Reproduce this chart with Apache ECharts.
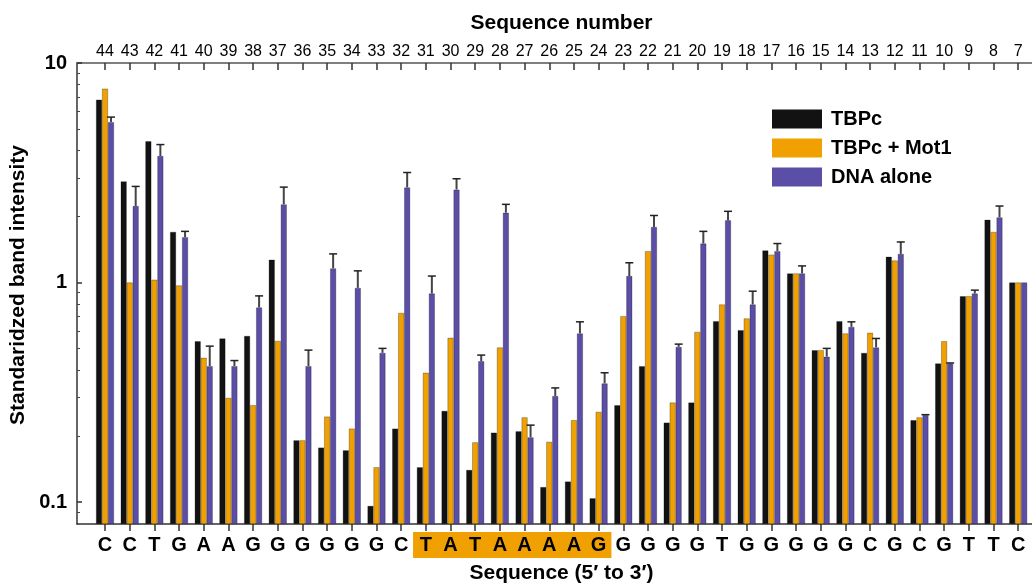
<!DOCTYPE html>
<html>
<head>
<meta charset="utf-8">
<script src="https://cdn.jsdelivr.net/npm/echarts@6/dist/echarts.min.js"></script>
<style>
  html, body { margin: 0; padding: 0; background: #fff; }
  #chart { width: 1032px; height: 585px; }
</style>
</head>
<body>
<div id="chart"></div>
<script>
// sequence positions, left to right
const seqNumbers = [44, 43, 42, 41, 40, 39, 38, 37, 36, 35, 34, 33, 32, 31, 30, 29, 28, 27, 26,
  25, 24, 23, 22, 21, 20, 19, 18, 17, 16, 15, 14, 13, 12, 11, 10, 9, 8, 7]
const bases = ['C', 'C', 'T', 'G', 'A', 'A', 'G', 'G', 'G', 'G', 'G', 'G', 'C', 'T', 'A', 'T', 'A', 'A', 'A',
  'A', 'G', 'G', 'G', 'G', 'G', 'T', 'G', 'G', 'G', 'G', 'G', 'C', 'G', 'C', 'G', 'T', 'T', 'C']
const tataBox = [31, 30, 29, 28, 27, 26, 25, 24]

const tbpc = [6.81, 2.89, 4.40, 1.70, 0.54, 0.556, 0.571, 1.27, 0.191, 0.177, 0.172, 0.096, 0.216,
  0.144, 0.26, 0.14, 0.207, 0.21, 0.117, 0.124, 0.104, 0.276, 0.416, 0.23, 0.284, 0.667, 0.607,
  1.40, 1.10, 0.492, 0.667, 0.478, 1.31, 0.236, 0.428, 0.866, 1.93, 1.0]
const tbpcMot1 = [7.64, 1.00, 1.03, 0.97, 0.454, 0.298, 0.276, 0.542, 0.191, 0.245, 0.216, 0.144, 0.727,
  0.388, 0.56, 0.187, 0.506, 0.243, 0.188, 0.236, 0.2575, 0.703, 1.39, 0.284, 0.596, 0.794, 0.686,
  1.34, 1.10, 0.492, 0.586, 0.590, 1.26, 0.243, 0.54, 0.866, 1.70, 1.0]
const dnaAlone = [5.38, 2.23, 3.77, 1.61, 0.416, 0.416, 0.769, 2.27, 0.416, 1.16, 0.945, 0.478, 2.71,
  0.891, 2.65, 0.438, 2.08, 0.197, 0.304, 0.586, 0.347, 1.07, 1.79, 0.509, 1.505, 1.92, 0.794,
  1.39, 1.10, 0.459, 0.628, 0.506, 1.35, 0.249, 0.428, 0.891, 1.98, 1.0]
// top of the error bar on DNA alone
const dnaAloneUpper = [5.67, 2.74, 4.25, 1.71, 0.513, 0.441, 0.869, 2.72, 0.492, 1.35, 1.13, 0.501, 3.17,
  1.07, 2.97, 0.467, 2.27, 0.224, 0.331, 0.662, 0.388, 1.23, 2.02, 0.524, 1.71, 2.11, 0.913,
  1.505, 1.19, 0.501, 0.662, 0.556, 1.53, 0.25, 0.43, 0.923, 2.23, null]

const yMajor = [0.1, 1, 10]
const yMinor = [0.09, 0.2, 0.3, 0.4, 0.5, 0.6, 0.7, 0.8, 0.9, 2, 3, 4, 5, 6, 7, 8, 9]

const idx = seqNumbers.map((d, i) => i)
const font = 'Liberation Sans, Arial, Helvetica, sans-serif'
const xMin = -1.135
const xMax = 37.56
const yMin = 0.0794
const yMax = 10

const chart = echarts.init(document.getElementById('chart'))

const barStyle = c => ({ color: c, borderColor: 'rgba(0,0,0,0.45)', borderWidth: 0.6 })

chart.setOption({
  animation: false,
  textStyle: { fontFamily: font },
  grid: { left: 77, right: 0, top: 63, bottom: 61, containLabel: false, outerBoundsMode: 'none' },
  legend: {
    data: ['TBPc', 'TBPc + Mot1', 'DNA alone'],
    orient: 'vertical',
    left: 767,
    top: 104,
    itemWidth: 50,
    itemHeight: 19,
    itemGap: 9,
    icon: 'rect',
    itemStyle: { borderWidth: 0 },
    textStyle: { fontSize: 20, fontWeight: 'bold', color: '#000', fontFamily: font, padding: [0, 0, 0, 4] }
  },
  xAxis: [
    {
      type: 'value',
      position: 'bottom',
      min: xMin,
      max: xMax,
      name: 'Sequence (5\u2032 to 3\u2032)',
      nameLocation: 'middle',
      nameGap: 39,
      nameTextStyle: { fontSize: 21, fontWeight: 'bold', color: '#000', padding: [0, 0, 0, 14] },
      axisLine: { onZero: false, lineStyle: { color: '#333', width: 1.5 } },
      axisTick: { customValues: idx, length: 7, lineStyle: { color: '#333', width: 1.5 } },
      axisLabel: {
        customValues: idx,
        margin: 8,
        formatter: v => {
          const b = bases[v]
          return tataBox.indexOf(seqNumbers[v]) >= 0 ? '{hl|' + b + '}' : '{b|' + b + '}'
        },
        rich: {
          b: { fontSize: 20, fontWeight: 'bold', color: '#000', lineHeight: 26, height: 26 },
          hl: {
            fontSize: 20, fontWeight: 'bold', color: '#000', lineHeight: 26, height: 26,
            width: 25.6, align: 'center', backgroundColor: '#F0A000'
          }
        }
      },
      splitLine: { show: false }
    },
    {
      type: 'value',
      position: 'top',
      min: xMin,
      max: xMax,
      name: 'Sequence number',
      nameLocation: 'middle',
      nameGap: 29,
      nameTextStyle: { fontSize: 21, fontWeight: 'bold', color: '#000', padding: [0, 0, 0, 14] },
      axisLine: { onZero: false, lineStyle: { color: '#555', width: 1.5 } },
      axisTick: { customValues: idx, inside: true, length: 7, lineStyle: { color: '#333', width: 1.5 } },
      axisLabel: {
        customValues: idx,
        margin: 3,
        fontSize: 16,
        color: '#000',
        formatter: v => String(seqNumbers[v])
      },
      splitLine: { show: false }
    }
  ],
  yAxis: [
    {
      type: 'log',
      logBase: 10,
      position: 'left',
      min: yMin,
      max: yMax,
      startValue: yMin,
      name: 'Standaridzed band intensity',
      nameLocation: 'middle',
      nameGap: 48,
      nameTextStyle: { fontSize: 21, fontWeight: 'bold', color: '#000', padding: [0, 0, 0, 17] },
      axisLine: { show: true, onZero: false, lineStyle: { color: '#333', width: 1.5 } },
      axisTick: { customValues: yMajor, inside: true, length: 5, lineStyle: { color: '#333', width: 1.5 } },
      axisLabel: {
        customValues: yMajor,
        margin: 10,
        fontSize: 20,
        fontWeight: 'bold',
        color: '#000',
        formatter: v => String(v)
      },
      splitLine: { show: false }
    },
    {
      type: 'log',
      logBase: 10,
      position: 'left',
      min: yMin,
      max: yMax,
      axisLine: { show: false, onZero: false },
      axisTick: { customValues: yMinor, inside: true, length: 3, lineStyle: { color: '#444', width: 1 } },
      axisLabel: { show: false },
      splitLine: { show: false }
    }
  ],
  series: [
    {
      name: 'TBPc',
      type: 'bar',
      barWidth: 6,
      barGap: '0%',
      itemStyle: barStyle('#121212'),
      data: tbpc.map((v, i) => [i, v])
    },
    {
      name: 'TBPc + Mot1',
      type: 'bar',
      barWidth: 6,
      barGap: '0%',
      itemStyle: barStyle('#F0A000'),
      data: tbpcMot1.map((v, i) => [i, v])
    },
    {
      name: 'DNA alone',
      type: 'bar',
      barWidth: 6,
      barGap: '0%',
      itemStyle: barStyle('#5A4EA6'),
      data: dnaAlone.map((v, i) => [i, v])
    },
    {
      name: 'DNA alone error',
      type: 'custom',
      silent: true,
      z: 3,
      data: dnaAlone.map((v, i) => [i, v, dnaAloneUpper[i]]).filter(d => d[2] != null),
      renderItem: (params, api) => {
        const x = api.value(0)
        const top = api.coord([x, api.value(1)])
        const cap = api.coord([x, api.value(2)])
        const cx = top[0] + 6
        return {
          type: 'group',
          children: [
            { type: 'line', shape: { x1: cx, y1: top[1], x2: cx, y2: cap[1] }, style: { stroke: '#444', lineWidth: 2 } },
            { type: 'line', shape: { x1: cx - 4, y1: cap[1], x2: cx + 4, y2: cap[1] }, style: { stroke: '#222', lineWidth: 1.5 } }
          ]
        }
      }
    }
  ]
})
</script>
</body>
</html>
